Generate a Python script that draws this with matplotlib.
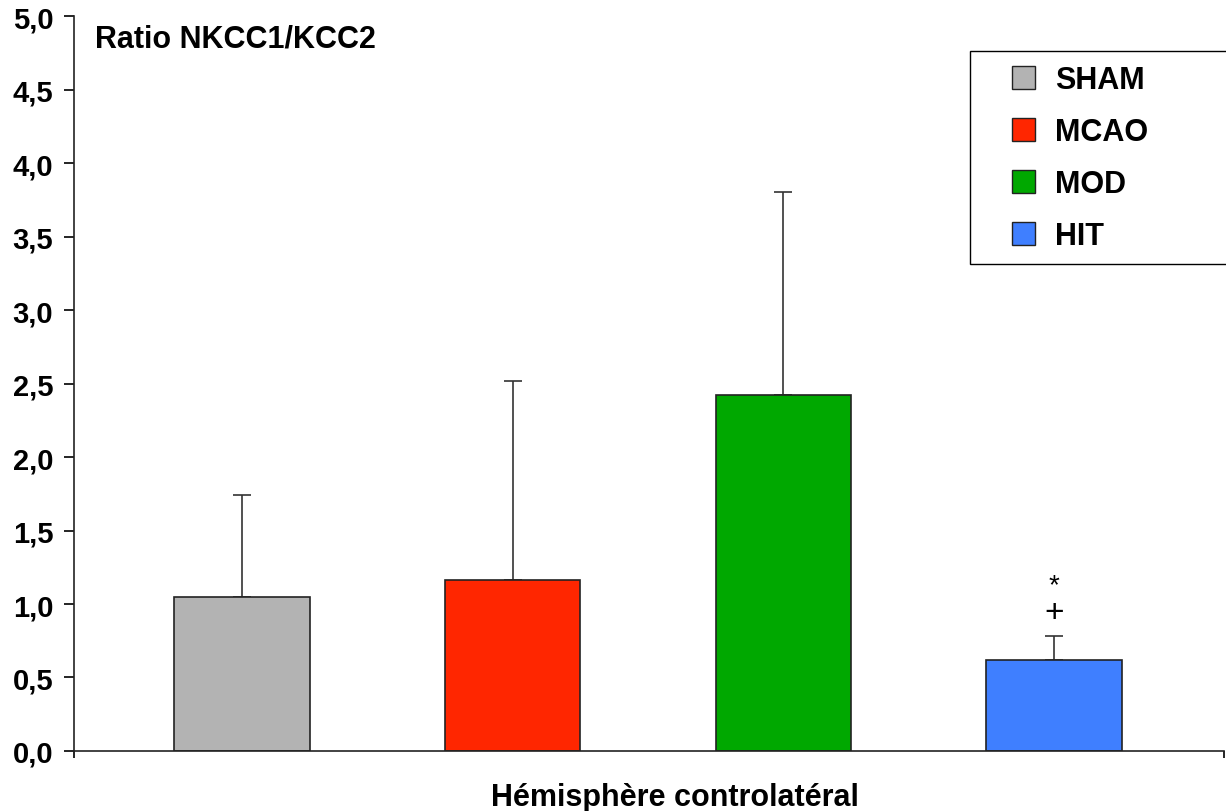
import matplotlib
matplotlib.use("Agg")
import matplotlib.pyplot as plt
from matplotlib.patches import Patch, Rectangle

plt.rcParams['font.family'] = ['Liberation Sans', 'DejaVu Sans']
plt.rcParams['font.weight'] = 'bold'

groups = ["SHAM", "MCAO", "MOD", "HIT"]
means = [1.05, 1.16, 2.42, 0.62]
errors = [0.69, 1.36, 1.38, 0.16]
colors = ["#b3b3b3", "#ff2600", "#00a800", "#3f7fff"]
ytick_vals = [0.0, 0.5, 1.0, 1.5, 2.0, 2.5, 3.0, 3.5, 4.0, 4.5, 5.0]
ytick_labels = ["0,0", "0,5", "1,0", "1,5", "2,0", "2,5", "3,0", "3,5", "4,0", "4,5", "5,0"]

W, H = 1226, 812
fig = plt.figure(figsize=(W / 100, H / 100), dpi=100)
ax = fig.add_axes([0.0604, 0.0739, 0.9376, 0.9051])

x = range(len(groups))
ax.bar(x, means, width=0.5, color=colors, edgecolor="#222222", linewidth=1.2, zorder=2)
ax.errorbar(x, means, yerr=[[0] * len(errors), errors], fmt="none",
            ecolor="#333333", elinewidth=1.2, capsize=6.5, capthick=1.2, zorder=1)

# significance marks over HIT
ax.text(3, means[3] + errors[3] + 0.35, "*", ha="center", va="center",
        fontsize=20, fontweight="normal")
ax.text(3, means[3] + errors[3] + 0.16, "+", ha="center", va="center",
        fontsize=24, fontweight="normal")

ax.set_xlim(-0.62, 3.627)
ax.set_ylim(0, 5.0)
ax.set_yticks(ytick_vals)
ax.set_yticklabels(ytick_labels, fontsize=21, fontweight="bold")
ax.tick_params(axis="y", direction="out", length=7, width=1.2, pad=8)
ax.set_xticks([-0.62, 3.627])
ax.set_xticklabels([])
ax.tick_params(axis="x", direction="out", length=5, width=1.2)

for side in ["top", "right"]:
    ax.spines[side].set_visible(False)
for side in ["left", "bottom"]:
    ax.spines[side].set_linewidth(1.2)
    ax.spines[side].set_color("#222222")

ax.set_xlabel("Hémisphère controlatéral", fontsize=22, fontweight="bold")
ax.xaxis.set_label_coords(0.523, -0.042, transform=ax.transAxes)
ax.xaxis.label.set_va("top")
ax.text(0.018, 0.99, "Ratio NKCC1/KCC2", transform=ax.transAxes,
        fontsize=22, fontweight="bold", va="top", ha="left")

# legend box (frame drawn separately, cut at the right edge like the original)
fig.patches.append(Rectangle((970 / W, 1 - 265 / H), 300 / W, 213 / H,
                             transform=fig.transFigure, facecolor="white",
                             edgecolor="black", linewidth=1.0, zorder=3))
handles = [Patch(facecolor=c, edgecolor="#222222", linewidth=1) for c in colors]
leg = fig.legend(handles, groups, loc="upper left", bbox_to_anchor=(1012 / W, 1 - 66 / H),
                 prop={"weight": "bold", "size": 22}, frameon=False,
                 handlelength=0.75, handleheight=0.75,
                 labelspacing=0.72, borderpad=0, handletextpad=0.65, borderaxespad=0)
leg.set_zorder(4)

fig.savefig("out.png", dpi=100, facecolor="white")
